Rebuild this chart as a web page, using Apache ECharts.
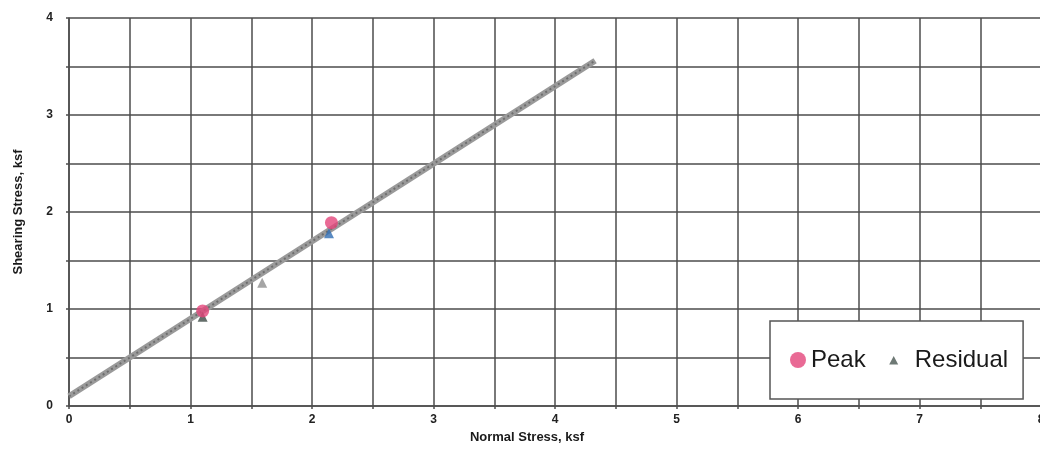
<!DOCTYPE html>
<html>
<head>
<meta charset="utf-8">
<script src="https://cdn.jsdelivr.net/npm/echarts@6/dist/echarts.min.js"></script>
<style>
  html, body { margin: 0; padding: 0; background: #ffffff; }
  #chart { width: 1040px; height: 458px; }
</style>
</head>
<body>
<div id="chart"></div>
<script>
// ---- data ----
var peakPoints = [[1.10, 0.98], [2.16, 1.89]];
var residualPoints = [[1.10, 0.92], [1.59, 1.27], [2.14, 1.78]];
var fitLine = [[0, 0.10], [4.33, 3.56]];
var xTicks = [0, 1, 2, 3, 4, 5, 6, 7, 8];
var yTicks = [0, 1, 2, 3, 4];
var xTitle = 'Normal Stress, ksf';
var yTitle = 'Shearing Stress, ksf';

var font = '"Liberation Sans", Arial, sans-serif';
var gridColor = '#4d4d4d';

function intLabel(list) {
  return function (v) {
    return list.indexOf(v) >= 0 ? String(v) : '';
  };
}

var residualColors = ['#3d4a45', '#8e8e8e', '#2f6db3'];

var chart = echarts.init(document.getElementById('chart'), null, { renderer: 'canvas' });
chart.setOption({
  backgroundColor: '#ffffff',
  animation: false,
  grid: { left: 69, top: 18, width: 972, bottom: 52, containLabel: false, outerBoundsMode: 'none' },
  xAxis: {
    type: 'value',
    min: 0, max: 8, interval: 0.5,
    name: xTitle,
    nameLocation: 'middle',
    nameGap: 24,
    nameTextStyle: { fontFamily: font, fontWeight: 'bold', fontSize: 13, color: '#1a1a1a', padding: [0, 56, 0, 0] },
    axisLine: { show: true, lineStyle: { color: gridColor, width: 1.5 } },
    axisTick: { show: true, length: 3, lineStyle: { color: gridColor, width: 1.5 } },
    axisLabel: { formatter: intLabel(xTicks), fontFamily: font, fontWeight: 'bold', fontSize: 12, color: '#222', margin: 8, showMaxLabel: true },
    splitLine: { show: true, lineStyle: { color: gridColor, width: 1.5 } }
  },
  yAxis: {
    type: 'value',
    min: 0, max: 4, interval: 0.5,
    name: yTitle,
    nameLocation: 'middle',
    nameGap: 44,
    nameTextStyle: { fontFamily: font, fontWeight: 'bold', fontSize: 13, color: '#1a1a1a' },
    axisLine: { show: true, lineStyle: { color: gridColor, width: 1.5 } },
    axisTick: { show: true, length: 3, lineStyle: { color: gridColor, width: 1.5 } },
    axisLabel: { formatter: intLabel(yTicks), fontFamily: font, fontWeight: 'bold', fontSize: 12, color: '#222', margin: 16 },
    splitLine: { show: true, lineStyle: { color: gridColor, width: 1.5 } }
  },
  legend: {
    left: 770, top: 321,
    orient: 'horizontal',
    backgroundColor: '#ffffff',
    borderColor: '#555',
    borderWidth: 1.5,
    padding: [27, 15, 27, 20],
    itemGap: 20,
    itemWidth: 16, itemHeight: 16,
    textStyle: { fontFamily: font, fontSize: 24, color: '#1a1a1a' },
    data: [
      { name: 'Peak', icon: 'circle' },
      { name: 'Residual', icon: 'path://M0,0h0.01M16,16h0.01M8,4L12.5,12.5H3.5Z', itemStyle: { color: '#4a5752' }, textStyle: { padding: [0, 0, 0, 8] } }
    ]
  },
  series: [
    {
      name: 'Fit',
      type: 'line',
      data: fitLine,
      symbol: 'none',
      silent: true,
      lineStyle: { color: '#9a9a9a', width: 6 },
      z: 2
    },
    {
      name: 'FitTexture',
      type: 'line',
      data: fitLine,
      symbol: 'none',
      silent: true,
      lineStyle: { color: '#6e6e6e', width: 2, type: [2, 3] },
      z: 3
    },
    {
      name: 'Residual',
      type: 'scatter',
      symbol: 'triangle',
      symbolSize: 10,
      itemStyle: { color: '#4a5752' },
      data: residualPoints.map(function (p, i) {
        return { value: p, itemStyle: { color: residualColors[i] } };
      }),
      z: 4
    },
    {
      name: 'Peak',
      type: 'scatter',
      symbol: 'circle',
      symbolSize: 13,
      itemStyle: { color: '#e4457a' },
      data: peakPoints,
      z: 5
    }
  ]
});
</script>
</body>
</html>
